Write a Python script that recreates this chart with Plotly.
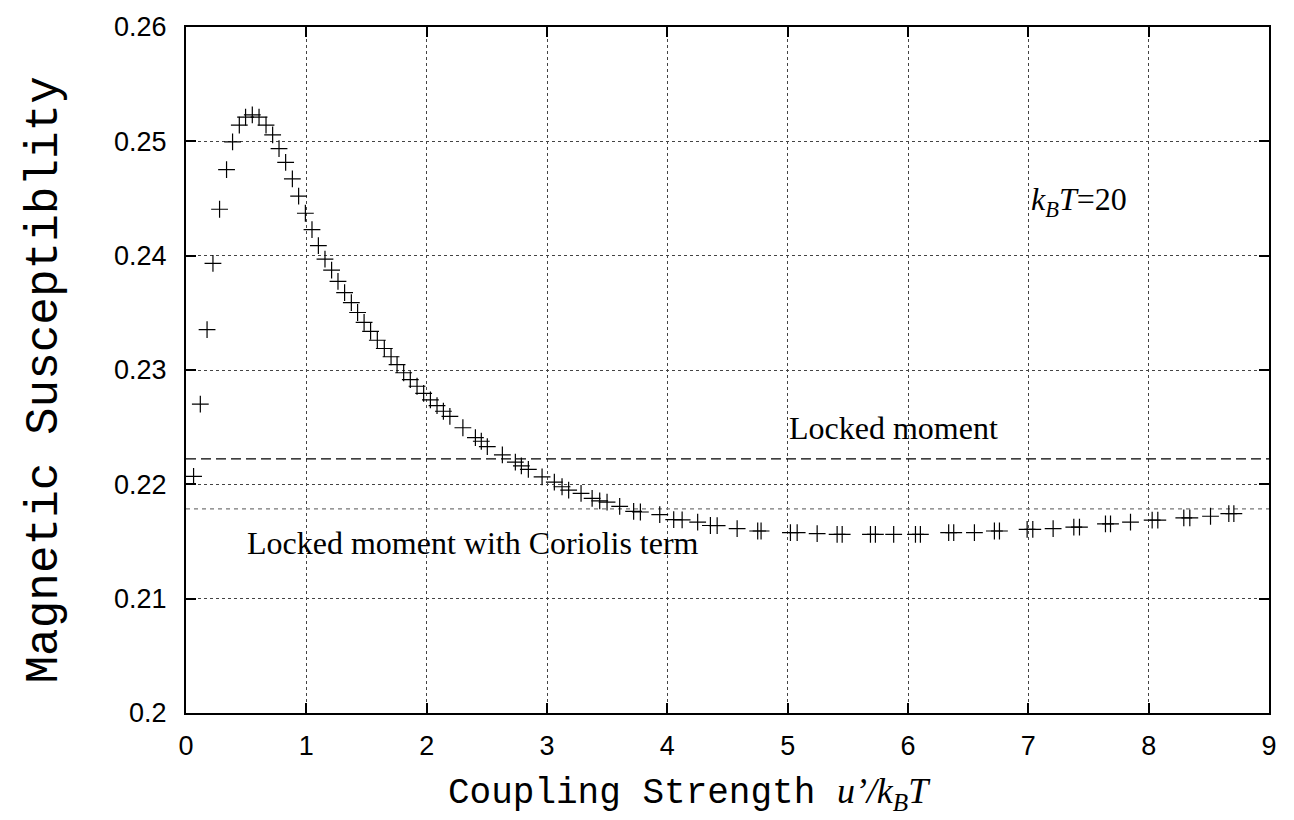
import plotly.graph_objects as go

# Coupling strength u'/kBT
x_vals = [0.063, 0.119, 0.175, 0.224, 0.279, 0.337, 0.387, 0.443, 0.495, 0.551,
          0.607, 0.665, 0.720, 0.773, 0.828, 0.884, 0.936, 0.992, 1.047, 1.100,
          1.155, 1.210, 1.263, 1.318, 1.374, 1.426, 1.480, 1.534, 1.590, 1.648,
          1.704, 1.754, 1.809, 1.864, 1.920, 1.975, 2.031, 2.086, 2.139, 2.193,
          2.301, 2.405, 2.454, 2.504, 2.629, 2.737, 2.787, 2.845, 2.959, 3.061,
          3.125, 3.180, 3.283, 3.375, 3.438, 3.499, 3.604, 3.720, 3.776, 3.937,
          4.053, 4.123, 4.252, 4.358, 4.414, 4.580, 4.751, 4.779, 5.023, 5.079,
          5.245, 5.411, 5.453, 5.688, 5.729, 5.881, 6.062, 6.103, 6.338, 6.380,
          6.552, 6.718, 6.760, 6.990, 7.037, 7.206, 7.378, 7.425, 7.641, 7.683,
          7.849, 8.029, 8.076, 8.292, 8.342, 8.514, 8.666, 8.708]

# Magnetic susceptibility
chi_vals = [0.22070, 0.22701, 0.23354, 0.23933, 0.24406, 0.24752, 0.24996, 0.25142, 0.25211, 0.25231,
            0.25211, 0.25142, 0.25056, 0.24936, 0.24816, 0.24672, 0.24520, 0.24371, 0.24228, 0.24088,
            0.23970, 0.23873, 0.23775, 0.23677, 0.23589, 0.23503, 0.23417, 0.23337, 0.23260, 0.23188,
            0.23116, 0.23047, 0.22976, 0.22916, 0.22858, 0.22796, 0.22738, 0.22689, 0.22639, 0.22594,
            0.22495, 0.22409, 0.22377, 0.22330, 0.22257, 0.22194, 0.22162, 0.22130, 0.22065, 0.22020,
            0.21979, 0.21950, 0.21921, 0.21878, 0.21855, 0.21844, 0.21807, 0.21764, 0.21758, 0.21735,
            0.21692, 0.21690, 0.21669, 0.21640, 0.21638, 0.21612, 0.21592, 0.21592, 0.21577, 0.21577,
            0.21569, 0.21563, 0.21563, 0.21563, 0.21563, 0.21563, 0.21563, 0.21563, 0.21577, 0.21577,
            0.21577, 0.21592, 0.21592, 0.21606, 0.21606, 0.21612, 0.21626, 0.21626, 0.21655, 0.21655,
            0.21669, 0.21687, 0.21687, 0.21706, 0.21706, 0.21721, 0.21743, 0.21743]

# Reference levels
locked_moment = 0.22222
locked_coriolis = 0.21785
line_x = [0, 9]

x_ticks = [0, 1, 2, 3, 4, 5, 6, 7, 8, 9]
y_ticks = [0.20, 0.21, 0.22, 0.23, 0.24, 0.25, 0.26]
y_tick_text = ["0.2", "0.21", "0.22", "0.23", "0.24", "0.25", "0.26"]

fig = go.Figure()

fig.add_trace(go.Scatter(
    x=line_x, y=[locked_moment, locked_moment], mode="lines",
    line=dict(color="black", width=1.2, dash="10px,5px"), showlegend=False,
    hoverinfo="skip"))
fig.add_trace(go.Scatter(
    x=line_x, y=[locked_coriolis, locked_coriolis], mode="lines",
    line=dict(color="#777777", width=1.2, dash="4px,4px"), showlegend=False,
    hoverinfo="skip"))
fig.add_trace(go.Scatter(
    x=x_vals, y=chi_vals, mode="markers",
    marker=dict(symbol="cross-thin", size=12, line=dict(color="black", width=1.2)),
    showlegend=False))

times = "Liberation Serif, Times New Roman, serif"
mono = "Liberation Mono, Courier New, monospace"
sans = "Liberation Sans, Arial, sans-serif"

fig.add_annotation(x=5.879, y=0.22497, text="Locked moment", showarrow=False,
                   xanchor="center", yanchor="middle",
                   font=dict(family=times, size=32, color="black"))
fig.add_annotation(x=2.388, y=0.21491, text="Locked moment with Coriolis term", showarrow=False,
                   xanchor="center", yanchor="middle",
                   font=dict(family=times, size=32, color="black"))
fig.add_annotation(x=7.418, y=0.24474, text="<i>k<sub>B</sub>T</i>=20", showarrow=False,
                   xanchor="center", yanchor="middle",
                   font=dict(family=times, size=32, color="black"))

# axis titles
fig.add_annotation(xref="paper", yref="paper", x=0.465, y=-0.118,
                   text="Coupling Strength <span style=\"font-family:Liberation Serif\"><i>u’/k<sub>B</sub>T</i></span>",
                   showarrow=False, xanchor="center", yanchor="middle",
                   font=dict(family=mono, size=36, color="black"))
fig.add_annotation(xref="paper", yref="paper", x=-0.130, y=0.485,
                   text="Magnetic Susceptiblity", textangle=-90,
                   showarrow=False, xanchor="center", yanchor="middle",
                   font=dict(family=mono, size=46, color="black"))

axis_common = dict(
    showline=True, linecolor="black", linewidth=2, mirror="ticks",
    ticks="inside", ticklen=10, tickwidth=2, tickcolor="black",
    showgrid=True, gridcolor="#444444", griddash="dot", gridwidth=1,
    zeroline=False, tickfont=dict(family=sans, size=27, color="black"),
)

fig.update_layout(
    width=1294, height=820,
    margin=dict(l=186, r=25, t=16, b=107),
    paper_bgcolor="white", plot_bgcolor="white",
    xaxis=dict(range=[0, 9], tickvals=x_ticks, ticklabelstandoff=8, **axis_common),
    yaxis=dict(range=[0.2, 0.26], tickvals=y_ticks, ticktext=y_tick_text,
               ticklabelstandoff=12, **axis_common),
)

fig.write_html("out.html")
